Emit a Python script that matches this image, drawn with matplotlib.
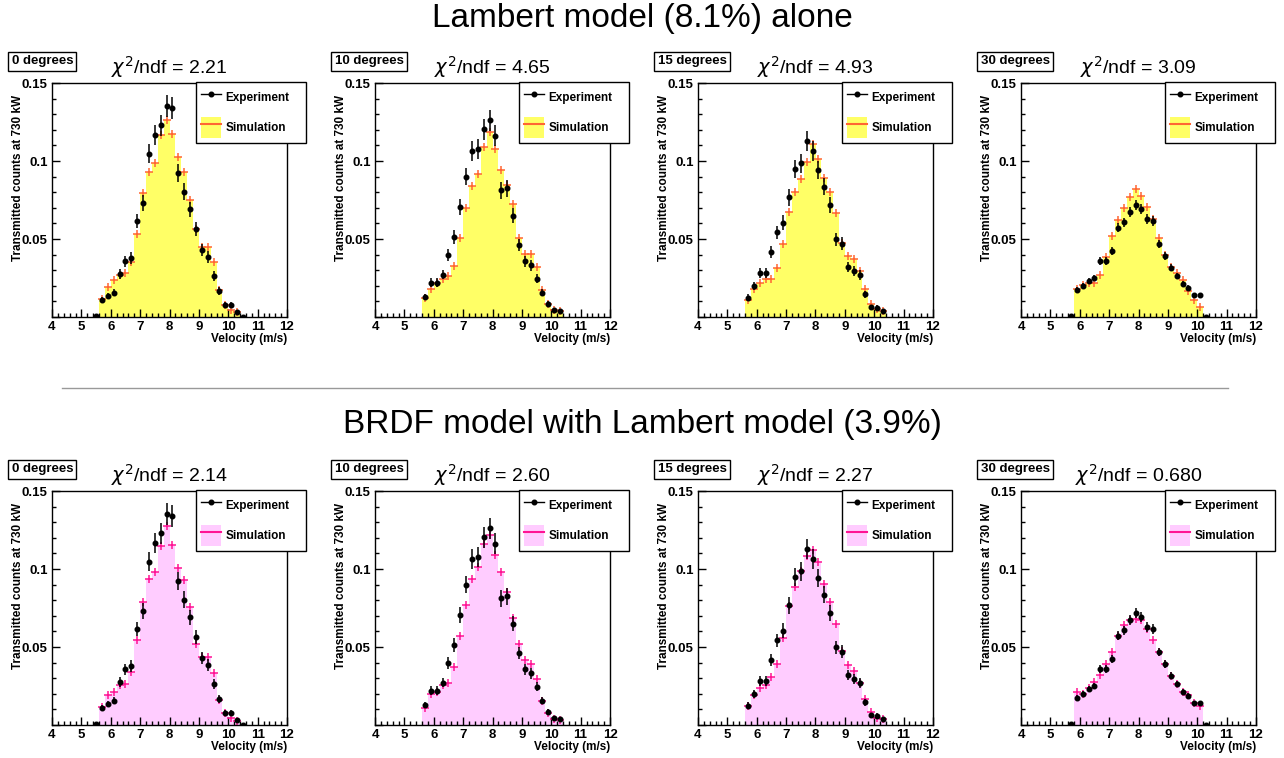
import numpy as np
import matplotlib.pyplot as plt
from matplotlib.lines import Line2D
from matplotlib.patches import Patch
from matplotlib.ticker import MultipleLocator, FuncFormatter

plt.rcParams['font.family'] = ['Liberation Sans', 'DejaVu Sans']

# Угол падения и chi2/ndf для двух моделей
angles = ["0 degrees", "10 degrees", "15 degrees", "30 degrees"]
chi2_lambert = ["2.21", "4.65", "4.93", "3.09"]
chi2_brdf = ["2.14", "2.60", "2.27", "0.680"]

# Центр первого бина каждого ряда (бины по 0.2 м/с)
exp_first = [5.5, 5.7, 5.7, 5.7]
sim_first = [5.7, 5.7, 5.7, 5.9]

# Эксперимент
exp_0 = [0.0005, 0.0107, 0.0135, 0.0156, 0.0276, 0.0358, 0.0379, 0.0615, 0.0733, 0.1046,
         0.1168, 0.1228, 0.1354, 0.1339, 0.0921, 0.0804, 0.0690, 0.0564, 0.0429, 0.0384,
         0.0264, 0.0167, 0.0077, 0.0077, 0.0030, 0.0003]
err_0 = [0.0004, 0.0020, 0.0022, 0.0024, 0.0032, 0.0036, 0.0037, 0.0047, 0.0051, 0.0061,
         0.0065, 0.0066, 0.0070, 0.0070, 0.0058, 0.0054, 0.0050, 0.0045, 0.0039, 0.0037,
         0.0031, 0.0025, 0.0017, 0.0017, 0.0010, 0.0003]
exp_10 = [0.0129, 0.0221, 0.0219, 0.0272, 0.0400, 0.0514, 0.0707, 0.0900, 0.1065, 0.1076,
          0.1202, 0.1260, 0.1163, 0.0812, 0.0825, 0.0649, 0.0461, 0.0358, 0.0332, 0.0246,
          0.0156, 0.0086, 0.0043, 0.0036]
err_10 = [0.0021, 0.0028, 0.0028, 0.0031, 0.0038, 0.0043, 0.0050, 0.0057, 0.0062, 0.0062,
          0.0066, 0.0067, 0.0065, 0.0054, 0.0055, 0.0048, 0.0041, 0.0036, 0.0035, 0.0030,
          0.0024, 0.0018, 0.0012, 0.0011]
exp_15 = [0.0124, 0.0197, 0.0279, 0.0279, 0.0418, 0.0542, 0.0604, 0.0767, 0.0949, 0.0986,
          0.1131, 0.1065, 0.0943, 0.0836, 0.0718, 0.0499, 0.0469, 0.0321, 0.0294, 0.0268,
          0.0146, 0.0064, 0.0060, 0.0039]
err_15 = [0.0021, 0.0027, 0.0032, 0.0032, 0.0039, 0.0044, 0.0047, 0.0053, 0.0059, 0.0060,
          0.0064, 0.0062, 0.0058, 0.0055, 0.0051, 0.0042, 0.0041, 0.0034, 0.0033, 0.0031,
          0.0023, 0.0015, 0.0015, 0.0012]
exp_30 = [0.0008, 0.0176, 0.0199, 0.0229, 0.0251, 0.0360, 0.0358, 0.0422, 0.0572, 0.0606,
          0.0671, 0.0718, 0.0692, 0.0628, 0.0617, 0.0467, 0.0390, 0.0315, 0.0261, 0.0214,
          0.0189, 0.0139, 0.0139, 0.0003]
err_30 = [0.0004, 0.0017, 0.0018, 0.0019, 0.0020, 0.0024, 0.0024, 0.0026, 0.0030, 0.0031,
          0.0032, 0.0034, 0.0033, 0.0031, 0.0031, 0.0027, 0.0025, 0.0022, 0.0020, 0.0018,
          0.0017, 0.0015, 0.0015, 0.0003]

# Моделирование: только Ламберт (8.1%)
lam_0 = [0.0118, 0.0190, 0.0234, 0.0272, 0.0285, 0.0350, 0.0534, 0.0797, 0.0932, 0.0986,
         0.1168, 0.1264, 0.1172, 0.1028, 0.0932, 0.0750, 0.0561, 0.0450, 0.0450, 0.0350,
         0.0171, 0.0079, 0.0043, 0.0032]
lam_10 = [0.0124, 0.0182, 0.0221, 0.0246, 0.0264, 0.0328, 0.0508, 0.0696, 0.0840, 0.0915,
          0.1089, 0.1189, 0.1076, 0.0945, 0.0846, 0.0722, 0.0508, 0.0407, 0.0407, 0.0321,
          0.0176, 0.0086, 0.0043, 0.0036]
lam_15 = [0.0107, 0.0182, 0.0221, 0.0242, 0.0246, 0.0311, 0.0469, 0.0671, 0.0799, 0.0885,
          0.0996, 0.1110, 0.1011, 0.0894, 0.0804, 0.0664, 0.0474, 0.0388, 0.0371, 0.0298,
          0.0178, 0.0081, 0.0054, 0.0036]
lam_30 = [0.0182, 0.0204, 0.0216, 0.0221, 0.0272, 0.0386, 0.0521, 0.0621, 0.0701, 0.0767,
          0.0821, 0.0776, 0.0707, 0.0628, 0.0504, 0.0396, 0.0321, 0.0279, 0.0236, 0.0165,
          0.0111, 0.0064]

# Моделирование: BRDF + Ламберт (3.9%)
brdf_0 = [0.0118, 0.0193, 0.0214, 0.0257, 0.0261, 0.0341, 0.0546, 0.0786, 0.0936, 0.0979,
          0.1146, 0.1275, 0.1151, 0.1005, 0.0932, 0.0754, 0.0519, 0.0433, 0.0437, 0.0332,
          0.0161, 0.0075, 0.0043, 0.0026]
brdf_10 = [0.0111, 0.0201, 0.0214, 0.0255, 0.0272, 0.0369, 0.0572, 0.0771, 0.0936, 0.1011,
           0.1161, 0.1215, 0.1091, 0.0979, 0.0855, 0.0686, 0.0519, 0.0418, 0.0394, 0.0294,
           0.0154, 0.0079, 0.0036, 0.0032]
brdf_15 = [0.0122, 0.0191, 0.0234, 0.0255, 0.0309, 0.0390, 0.0555, 0.0765, 0.0883, 0.0990,
           0.1082, 0.1125, 0.1048, 0.0902, 0.0786, 0.0647, 0.0476, 0.0384, 0.0343, 0.0268,
           0.0165, 0.0084, 0.0047, 0.0036]
brdf_30 = [0.0214, 0.0197, 0.0236, 0.0276, 0.0319, 0.0394, 0.0465, 0.0572, 0.0641, 0.0675,
           0.0679, 0.0673, 0.0615, 0.0546, 0.0465, 0.0390, 0.0315, 0.0266, 0.0212, 0.0191,
           0.0144, 0.0122]

exp_all = [exp_0, exp_10, exp_15, exp_30]
err_all = [err_0, err_10, err_15, err_30]
lam_all = [lam_0, lam_10, lam_15, lam_30]
brdf_all = [brdf_0, brdf_10, brdf_15, brdf_30]

BIN = 0.2
W, H = 1284, 758
fig = plt.figure(figsize=(W / 100, H / 100), dpi=100)


def centres(first, n):
    return first + BIN * np.arange(n)


def draw_panel(left_px, top_px, k, sim, chi2, fill_c, line_c):
    ax = fig.add_axes([left_px / W, 1 - (top_px + 234) / H, 235 / W, 234 / H])
    x_sim = centres(sim_first[k], len(sim))
    edges = np.append(x_sim - BIN / 2, x_sim[-1] + BIN / 2)
    ax.stairs(sim, edges, fill=True, color=fill_c, lw=0)
    ax.plot(x_sim, sim, '+', ms=6, mew=1.1, color=line_c)

    x_exp = centres(exp_first[k], len(exp_all[k]))
    ax.errorbar(x_exp, exp_all[k], yerr=err_all[k], fmt='o', ms=3.3, color='k',
                elinewidth=1.1, capsize=0)

    ax.set_xlim(4, 12)
    ax.set_ylim(0, 0.15)
    ax.xaxis.set_major_locator(MultipleLocator(1))
    ax.xaxis.set_minor_locator(MultipleLocator(0.2))
    ax.yaxis.set_major_locator(MultipleLocator(0.05))
    ax.yaxis.set_minor_locator(MultipleLocator(0.01))
    ax.yaxis.set_major_formatter(FuncFormatter(lambda v, p: '' if v == 0 else f'{v:g}'))
    ax.tick_params(which='both', direction='in', top=False, right=False,
                   labelsize=9.5, pad=3)
    ax.tick_params(which='major', length=6, width=1)
    ax.tick_params(which='minor', length=3, width=1)
    for lab in ax.get_xticklabels() + ax.get_yticklabels():
        lab.set_fontweight('bold')
    for s in ax.spines.values():
        s.set_linewidth(1)

    ax.text(-0.145, 0.95, 'Transmitted counts at 730 kW', rotation=90, ha='center',
            va='top', fontsize=8.5, fontweight='bold', transform=ax.transAxes)
    ax.text(1.0, -0.092, 'Velocity (m/s)', ha='right', va='center', fontsize=8.5,
            fontweight='bold', transform=ax.transAxes)
    ax.text(0.5, 1.068, r'$\chi^2$/ndf = ' + chi2, ha='center', va='center',
            fontsize=14, transform=ax.transAxes)
    ax.text(-0.172, 1.092, angles[k], ha='left', va='center', fontsize=9.5,
            fontweight='bold', transform=ax.transAxes,
            bbox=dict(boxstyle='square,pad=0.25', fc='white', ec='k', lw=1))

    handles = [Line2D([0], [0], color='k', marker='o', ms=3.3, lw=1),
               (Patch(facecolor=fill_c, edgecolor='none'), Line2D([0], [0], color=line_c, lw=1.5))]
    ax.legend(handles, ['Experiment', 'Simulation'], loc='upper left',
              bbox_to_anchor=(0.613, 0.744, 0.468, 0.261), mode='expand',
              borderaxespad=0, borderpad=0.4, handlelength=1.7, handleheight=2.4,
              handletextpad=0.4, labelspacing=0.75, fancybox=False, edgecolor='k',
              framealpha=1, prop=dict(size=8.5, weight='bold'))
    ax.get_legend().get_frame().set_linewidth(1)
    return ax


lefts = [52, 375, 698, 1021]
for k in range(4):
    draw_panel(lefts[k], 83, k, lam_all[k], chi2_lambert[k], '#ffff66', '#ff6633')
    draw_panel(lefts[k], 491, k, brdf_all[k], chi2_brdf[k], '#ffccff', '#ff1493')

fig.text(0.5, 1 - 19 / H, 'Lambert model (8.1%) alone', ha='center', va='center', fontsize=24)
fig.text(0.5, 1 - 424 / H, 'BRDF model with Lambert model (3.9%)', ha='center', va='center',
         fontsize=24)
fig.add_artist(Line2D([62 / W, 1228 / W], [1 - 388 / H, 1 - 388 / H], color='#999999', lw=1))

fig.savefig('out.png', dpi=100)
